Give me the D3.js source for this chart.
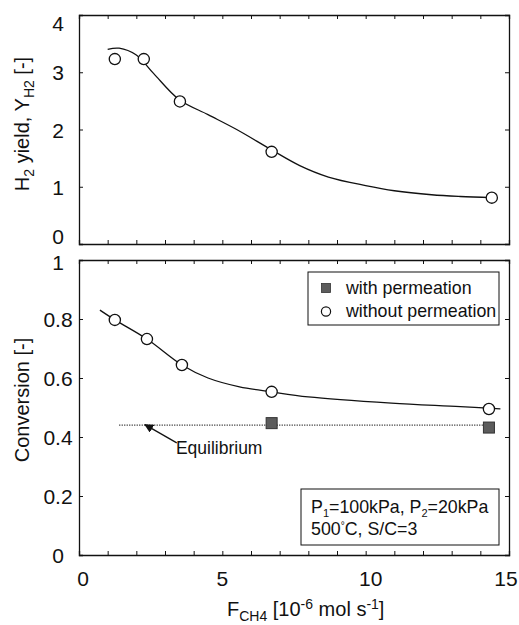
<!DOCTYPE html>
<html><head><meta charset="utf-8">
<script src="https://cdn.jsdelivr.net/npm/d3@7"></script>
<style>
body{margin:0;background:#fff;}
text{font-family:"Liberation Sans",Arial,sans-serif;fill:#111;}
</style></head>
<body><svg id="c" width="519" height="625"></svg>
<script>
// ---- data ----
const xTicks = [0, 5, 10, 15];
const yTopTicks = [0, 1, 2, 3, 4];
const yBotTicks = [0, 0.2, 0.4, 0.6, 0.8, 1];
const yBotTickLabels = ["0", "0.2", "0.4", "0.6", "0.8", "1"];

// H2 yield, without permeation (points)
const yieldX = [1.25, 2.26, 3.52, 6.72, 14.4];
const yieldY = [3.23, 3.23, 2.49, 1.61, 0.81];
// H2 yield fitted curve
const yieldCurveX = [1.0, 1.4, 2.0, 2.6, 3.5, 4.5, 5.5, 6.7, 7.7, 8.7, 10.0, 11.0, 12.3, 13.3, 14.4];
const yieldCurveY = [3.40, 3.42, 3.30, 2.98, 2.52, 2.26, 2.00, 1.65, 1.37, 1.17, 1.02, 0.93, 0.86, 0.83, 0.81];

// Conversion, without permeation (circles)
const convX = [1.25, 2.37, 3.59, 6.72, 14.3];
const convY = [0.797, 0.732, 0.644, 0.553, 0.495];
// Conversion, with permeation (squares)
const convPermX = [6.72, 14.3];
const convPermY = [0.447, 0.432];
// Conversion fitted curve
const convCurveX = [0.73, 1.25, 2.37, 3.59, 4.5, 5.6, 6.72, 8.0, 10.9, 13.3, 14.7];
const convCurveY = [0.83, 0.797, 0.732, 0.644, 0.60, 0.57, 0.553, 0.536, 0.515, 0.503, 0.495];
// Equilibrium line
const eqX = [1.4, 14.3];
const eqY = [0.44, 0.44];

// ---- layout ----
const svg = d3.select("#c");
const X0 = 79, X1 = 509;
const x = d3.scaleLinear().domain([0, 15]).range([X0, X1]);
const yT = d3.scaleLinear().domain([0, 4]).range([244, 15]);
const yB = d3.scaleLinear().domain([0, 1]).range([555, 260]);
const ink = "#111";

function frame(y, yticks, labels, labelShift) {
  const g = svg.append("g");
  const [yb, yt] = y.range();
  const xt = d3.range(0, 16, 1);
  g.append("g").attr("transform", `translate(0,${yb})`)
    .call(d3.axisBottom(x).tickValues(xt).tickSize(-4).tickFormat(""));
  g.append("g").attr("transform", `translate(0,${yt})`)
    .call(d3.axisTop(x).tickValues(xt).tickSize(-4).tickFormat(""));
  g.append("g").attr("transform", `translate(${X1},0)`)
    .call(d3.axisRight(y).tickValues(yticks).tickSize(-4).tickFormat(""));
  const la = g.append("g").attr("transform", `translate(${X0},0)`)
    .call(d3.axisLeft(y).tickValues(yticks).tickSize(-4).tickFormat((d, i) => labels[i]));
  la.selectAll("text").attr("text-anchor", "middle").attr("x", -21)
    .attr("dy", (d, i) => (0.36 + (labelShift[i] || 0)) + "em")
    .style("font-size", "21px");
  g.selectAll(".domain").attr("stroke", ink).attr("stroke-width", 1.3);
  g.selectAll(".tick line").attr("stroke", ink).attr("stroke-width", 1);
  return g;
}

frame(yT, yTopTicks, yTopTicks.map(String), [-0.4, 0, 0, 0, 0.38]);
frame(yB, yBotTicks, yBotTickLabels, [0, 0, 0, 0, 0, 0.1]);

// x tick labels
const xLabOff = [4, 0, 5, -3];
svg.append("g").selectAll("text").data(xTicks).join("text")
  .attr("x", (d, i) => x(d) + xLabOff[i]).attr("y", 586).attr("text-anchor", "middle")
  .style("font-size", "21px").text(d => d);

// curves
const line = (ys) => d3.line().x(d => x(d[0])).y(d => ys(d[1])).curve(d3.curveCatmullRom.alpha(0.5));
svg.append("path").datum(yieldCurveX.map((v, i) => [v, yieldCurveY[i]]))
  .attr("d", line(yT)).attr("fill", "none").attr("stroke", ink).attr("stroke-width", 1.3);
svg.append("path").datum(convCurveX.map((v, i) => [v, convCurveY[i]]))
  .attr("d", line(yB)).attr("fill", "none").attr("stroke", ink).attr("stroke-width", 1.3);

// equilibrium dotted line
svg.append("path").datum(eqX.map((v, i) => [v, eqY[i]]))
  .attr("d", d3.line().x(d => x(d[0])).y(d => yB(d[1])))
  .attr("fill", "none").attr("stroke", "#333").attr("stroke-width", 1.3).attr("stroke-dasharray", "1.2,1.3");

// circles
function circles(xs, ys, ysc) {
  svg.append("g").selectAll("circle").data(xs.map((v, i) => [v, ys[i]])).join("circle")
    .attr("cx", d => x(d[0])).attr("cy", d => ysc(d[1])).attr("r", 5.6)
    .attr("fill", "#fff").attr("stroke", ink).attr("stroke-width", 1.3);
}
circles(yieldX, yieldY, yT);
circles(convX, convY, yB);

// squares
svg.append("g").selectAll("rect").data(convPermX.map((v, i) => [v, convPermY[i]])).join("rect")
  .attr("x", d => x(d[0]) - 5.5).attr("y", d => yB(d[1]) - 5.5).attr("width", 11).attr("height", 11)
  .attr("fill", "#5c5c5c").attr("stroke", "#333").attr("stroke-width", 1);

// equilibrium annotation with arrow
svg.append("defs").append("marker").attr("id", "ah").attr("viewBox", "0 0 10 10")
  .attr("refX", 9).attr("refY", 5).attr("markerWidth", 7).attr("markerHeight", 7)
  .attr("orient", "auto").append("path").attr("d", "M0,0 L10,5 L0,10 z").attr("fill", ink);
svg.append("line").attr("x1", x(3.41)).attr("y1", yB(0.38)).attr("x2", x(2.3)).attr("y2", yB(0.442))
  .attr("stroke", ink).attr("stroke-width", 1.3).attr("marker-end", "url(#ah)");
svg.append("text").attr("x", x(3.38)).attr("y", yB(0.342)).style("font-size", "17.5px").text("Equilibrium");

// legend
const lg = svg.append("g");
lg.append("rect").attr("x", 308).attr("y", 272).attr("width", 191).attr("height", 53)
  .attr("fill", "#fff").attr("stroke", ink).attr("stroke-width", 1);
lg.append("rect").attr("x", 321.5).attr("y", 283.5).attr("width", 9).attr("height", 9)
  .attr("fill", "#5c5c5c").attr("stroke", "#333").attr("stroke-width", 0.8);
lg.append("circle").attr("cx", 326).attr("cy", 311.5).attr("r", 4.6)
  .attr("fill", "#fff").attr("stroke", ink).attr("stroke-width", 1.2);
lg.append("text").attr("x", 346).attr("y", 294).style("font-size", "17.8px").text("with permeation");
lg.append("text").attr("x", 346).attr("y", 317).style("font-size", "17.8px").text("without permeation");

// conditions box
const cb = svg.append("g");
cb.append("rect").attr("x", 301).attr("y", 489).attr("width", 198).attr("height", 56)
  .attr("fill", "#fff").attr("stroke", ink).attr("stroke-width", 1);
const t1 = cb.append("text").attr("x", 311).attr("y", 513).style("font-size", "17.8px");
t1.append("tspan").text("P");
t1.append("tspan").attr("dy", 4).style("font-size", "11px").text("1");
t1.append("tspan").attr("dy", -4).text("=100kPa, P");
t1.append("tspan").attr("dy", 4).style("font-size", "11px").text("2");
t1.append("tspan").attr("dy", -4).text("=20kPa");
const t2 = cb.append("text").attr("x", 311).attr("y", 535).style("font-size", "17.8px");
t2.append("tspan").text("500");
t2.append("tspan").attr("dy", -6).style("font-size", "10px").text("°");
t2.append("tspan").attr("dy", 6).text("C, S/C=3");

// axis titles
const ty = svg.append("text").attr("transform", "translate(29,124) rotate(-90)")
  .attr("text-anchor", "middle").style("font-size", "20px");
ty.append("tspan").text("H");
ty.append("tspan").attr("dy", 5).style("font-size", "14px").text("2");
ty.append("tspan").attr("dy", -5).text(" yield, Y");
ty.append("tspan").attr("dy", 5).style("font-size", "14px").text("H2");
ty.append("tspan").attr("dy", -5).text(" [-]");

svg.append("text").attr("transform", "translate(29,400) rotate(-90)")
  .attr("text-anchor", "middle").style("font-size", "20px").text("Conversion [-]");

const tx = svg.append("text").attr("x", 227).attr("y", 616).style("font-size", "20px");
tx.append("tspan").text("F");
tx.append("tspan").attr("dy", 5).style("font-size", "14px").text("CH4");
tx.append("tspan").attr("dy", -5).text(" [10");
tx.append("tspan").attr("dy", -7).style("font-size", "14px").text("-6");
tx.append("tspan").attr("dy", 7).text(" mol s");
tx.append("tspan").attr("dy", -7).style("font-size", "14px").text("-1");
tx.append("tspan").attr("dy", 7).text("]");
</script></body></html>
